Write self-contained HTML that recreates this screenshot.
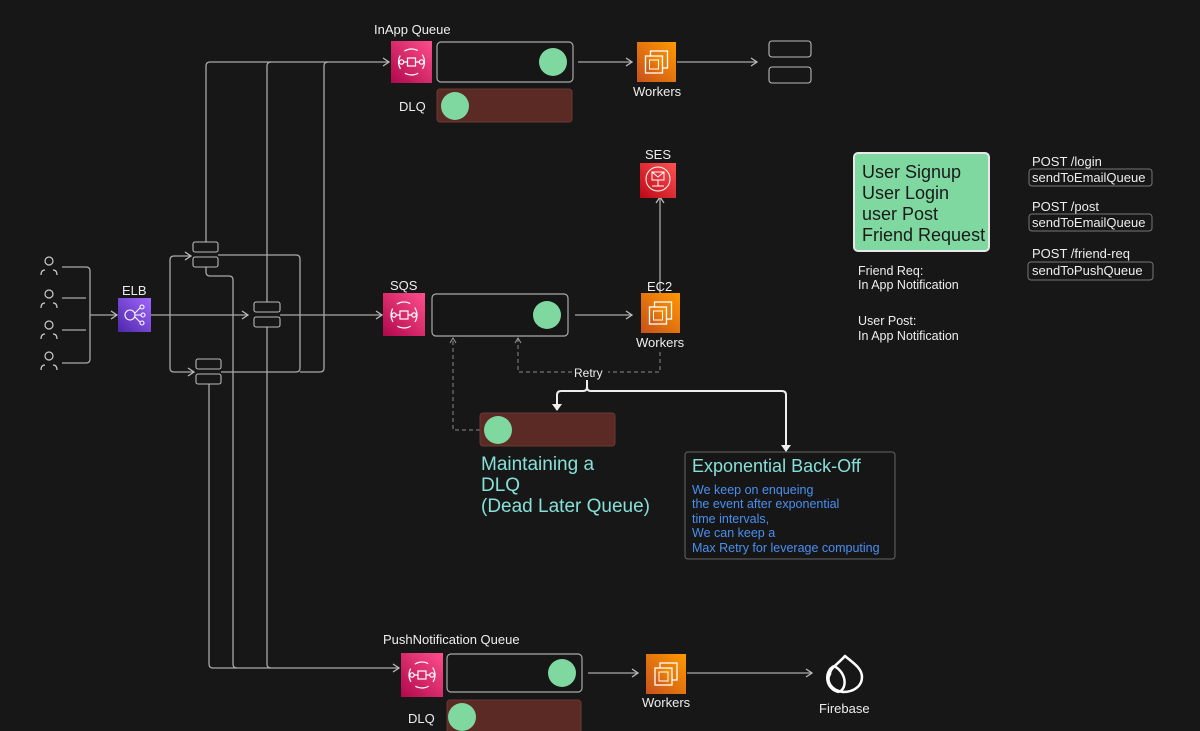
<!DOCTYPE html>
<html><head><meta charset="utf-8"><style>
html,body{margin:0;padding:0;background:#171717;}
svg{display:block;}
text{font-family:"Liberation Sans",sans-serif;}
</style></head><body>
<svg width="1200" height="731" viewBox="0 0 1200 731" xmlns="http://www.w3.org/2000/svg">
<defs>
<linearGradient id="pk" x1="0" y1="1" x2="1" y2="0"><stop offset="0" stop-color="#b0084d"/><stop offset="1" stop-color="#ff4f8b"/></linearGradient>
<linearGradient id="or" x1="0" y1="1" x2="1" y2="0"><stop offset="0" stop-color="#c8511b"/><stop offset="1" stop-color="#ff9900"/></linearGradient>
<linearGradient id="pu" x1="0" y1="1" x2="1" y2="0"><stop offset="0" stop-color="#4d27a8"/><stop offset="1" stop-color="#a166ff"/></linearGradient>
<linearGradient id="rd" x1="0" y1="1" x2="1" y2="0"><stop offset="0" stop-color="#bd0816"/><stop offset="1" stop-color="#ff5252"/></linearGradient>
<marker id="ar" markerWidth="10" markerHeight="10" refX="8" refY="5" orient="auto" markerUnits="userSpaceOnUse"><path d="M2,1 L8,5 L2,9" fill="none" stroke="#bbb" stroke-width="1.3"/></marker>
<marker id="arw" markerWidth="12" markerHeight="12" refX="6" refY="10" orient="0" markerUnits="userSpaceOnUse"><path d="M1,4 L6,11 L11,4 Z" fill="#eee"/></marker>
<marker id="ard" markerWidth="10" markerHeight="10" refX="5" refY="2" orient="0" markerUnits="userSpaceOnUse"><path d="M2,7 L5,2 L8,7" fill="none" stroke="#999" stroke-width="1"/></marker>
<g id="sqs">
<circle cx="0" cy="0" r="13" fill="none" stroke="#fff" stroke-width="1.2" stroke-dasharray="14 6" transform="rotate(-30)"/>
<circle cx="-10" cy="0" r="2.2" fill="none" stroke="#fff" stroke-width="1.2"/>
<circle cx="10" cy="0" r="2.2" fill="none" stroke="#fff" stroke-width="1.2"/>
<rect x="-4" y="-4" width="8" height="8" fill="none" stroke="#fff" stroke-width="1.2"/>
<path d="M-8,0 H-4 M4,0 H8" stroke="#fff" stroke-width="1.2"/>
</g>
<g id="ec2">
<rect x="-6" y="-11" width="17" height="17" fill="none" stroke="#fff" stroke-width="1.3"/>
<rect x="-11" y="-6" width="17" height="17" fill="url(#or)" stroke="#fff" stroke-width="1.3"/>
<rect x="-7" y="-2" width="9" height="9" fill="none" stroke="#fff" stroke-width="1"/>
</g>
</defs>

<g fill="none" stroke="#a8a8a8" stroke-width="1.3">
<path d="M62,267 H86 q4,0 4,4 V359 q0,4 -4,4 H62"/>
<path d="M62,298 H86 M62,330 H86"/>
<path d="M90,315 H117" marker-end="url(#ar)"/>
<path d="M151,315 H248" marker-end="url(#ar)"/>
<path d="M170,315 V260 q0,-4 4,-4 H191" marker-end="url(#ar)"/>
<path d="M170,315 V368 q0,4 4,4 H194" marker-end="url(#ar)"/>
<path d="M218,255 H296 q4,0 4,4 V368 q0,4 -4,4 H221"/>
<path d="M280,315 H382" marker-end="url(#ar)"/>
<path d="M300,372 H320 q4,0 4,-4 V66 q0,-4 4,-4"/>
<path d="M206,242 V66 q0,-4 4,-4 H389" marker-end="url(#ar)"/>
<path d="M267,302 V66 q0,-4 4,-4"/>
<path d="M206,267 V272 q0,4 4,4 H229 q4,0 4,4 V664 q0,4 4,4"/>
<path d="M209,384 V664 q0,4 4,4 H399" marker-end="url(#ar)"/>
<path d="M267,327 V664 q0,4 4,4"/>
<path d="M578,62 H632" marker-end="url(#ar)"/>
<path d="M677,62 H757" marker-end="url(#ar)"/>
<path d="M575,315 H632" marker-end="url(#ar)"/>
<path d="M660,293 V197" marker-end="url(#ar)"/>
<path d="M588,673 H638" marker-end="url(#ar)"/>
<path d="M687,673 H812" marker-end="url(#ar)"/>
</g>

<g fill="none" stroke="#ccc" stroke-width="1.2">
<circle cx="49" cy="261" r="4"/><path d="M41,275 q0,-5 4,-5 M57,275 q0,-5 -4,-5"/>
<circle cx="49" cy="294" r="4"/><path d="M41,308 q0,-5 4,-5 M57,308 q0,-5 -4,-5"/>
<circle cx="49" cy="325" r="4"/><path d="M41,339 q0,-5 4,-5 M57,339 q0,-5 -4,-5"/>
<circle cx="49" cy="356" r="4"/><path d="M41,370 q0,-5 4,-5 M57,370 q0,-5 -4,-5"/>
</g>

<text x="122" y="295" fill="#eee" font-size="13">ELB</text>
<rect x="118" y="298" width="33" height="34" fill="url(#pu)"/>
<g fill="none" stroke="#fff" stroke-width="1.1"><circle cx="130" cy="315" r="5"/><circle cx="142" cy="307" r="2"/><circle cx="143" cy="315" r="2"/><circle cx="142" cy="323" r="2"/><path d="M135,313 L140,308 M135,315 H141 M135,317 L140,322"/></g>

<g fill="#171717" stroke="#bbb" stroke-width="1.1">
<rect x="193" y="242" width="25" height="10" rx="2"/><rect x="193" y="257" width="25" height="10" rx="2"/>
<rect x="254" y="302" width="26" height="10" rx="2"/><rect x="254" y="317" width="26" height="10" rx="2"/>
<rect x="196" y="359" width="25" height="10" rx="2"/><rect x="196" y="374" width="25" height="10" rx="2"/>
<rect x="769" y="41" width="42" height="16" rx="3"/><rect x="769" y="67" width="42" height="16" rx="3"/>
</g>

<text x="374" y="34" fill="#eee" font-size="13">InApp Queue</text>
<rect x="391" y="41" width="41" height="42" fill="url(#pk)"/><use href="#sqs" x="411.5" y="62"/>
<rect x="437" y="42" width="136" height="40" rx="4" fill="#161616" stroke="#aaa" stroke-width="1.2"/>
<circle cx="553" cy="62" r="14" fill="#7fd8a0"/>
<text x="399" y="111" fill="#eee" font-size="13">DLQ</text>
<rect x="437" y="89" width="135" height="33" rx="3" fill="#5c2a25" stroke="#6a3a34"/>
<circle cx="455" cy="106" r="14" fill="#7fd8a0"/>
<rect x="637" y="42" width="39" height="40" fill="url(#or)"/><use href="#ec2" x="656.5" y="62"/>
<text x="633" y="96" fill="#eee" font-size="13">Workers</text>

<text x="645" y="159" fill="#eee" font-size="13">SES</text>
<rect x="640" y="163" width="36" height="35" fill="url(#rd)"/>
<g fill="none" stroke="#fff" stroke-width="1"><circle cx="658" cy="179" r="12"/><rect x="652" y="172" width="12" height="8"/><path d="M652,172 L658,177 L664,172 M658,180 V186 M652,186 H664"/></g>

<text x="390" y="290" fill="#eee" font-size="13">SQS</text>
<rect x="383" y="293" width="42" height="43" fill="url(#pk)"/><use href="#sqs" x="404" y="315"/>
<rect x="432" y="294" width="136" height="42" rx="4" fill="#161616" stroke="#aaa" stroke-width="1.2"/>
<circle cx="547" cy="315" r="14" fill="#7fd8a0"/>
<text x="647" y="291" fill="#eee" font-size="13">EC2</text>
<rect x="641" y="293" width="39" height="40" fill="url(#or)"/><use href="#ec2" x="660.5" y="313"/>
<text x="636" y="347" fill="#eee" font-size="13">Workers</text>

<g fill="none" stroke="#8a8a8a" stroke-width="1" stroke-dasharray="4 3">
<path d="M480,430 H453 V338" marker-end="url(#ard)"/>
<path d="M660,352 V372 H608 M572,372 H518 V338" marker-end="url(#ard)"/>
</g>
<text x="574" y="377" fill="#eee" font-size="12">Retry</text>
<g fill="none" stroke="#eee" stroke-width="2">
<path d="M587,380 V387 q0,4 -4,4 H561 q-4,0 -4,4 V410" marker-end="url(#arw)"/>
<path d="M587,387 q0,4 4,4 H782 q4,0 4,4 V451" marker-end="url(#arw)"/>
</g>
<rect x="480" y="413" width="135" height="33" rx="3" fill="#5c2a25" stroke="#6a3a34"/>
<circle cx="498" cy="430" r="14" fill="#7fd8a0"/>
<g fill="#86e0d8" font-size="19"><text x="481" y="470">Maintaining a</text><text x="481" y="491">DLQ</text><text x="481" y="512">(Dead Later Queue)</text></g>
<rect x="685" y="452" width="210" height="107" rx="3" fill="#161616" stroke="#666"/>
<text x="692" y="472" fill="#86e0d8" font-size="18">Exponential Back-Off</text>
<g fill="#4a8ff0" font-size="12.5"><text x="692" y="494">We keep on enqueing</text><text x="692" y="508">the event after exponential</text><text x="692" y="523">time intervals,</text><text x="692" y="537">We can keep a</text><text x="692" y="552">Max Retry for leverage computing</text></g>

<rect x="854" y="153" width="135" height="98" rx="4" fill="#7fd8a0" stroke="#e8e8e8" stroke-width="2"/>
<g fill="#1a1a1a" font-size="18"><text x="862" y="178">User Signup</text><text x="862" y="199">User Login</text><text x="862" y="220">user Post</text><text x="862" y="241">Friend Request</text></g>
<g fill="#eee" font-size="12.5"><text x="858" y="275">Friend Req:</text><text x="858" y="289">In App Notification</text><text x="858" y="325">User Post:</text><text x="858" y="340">In App Notification</text></g>
<g fill="#eee" font-size="13">
<text x="1032" y="166">POST /login</text><text x="1032" y="211">POST /post</text><text x="1032" y="258">POST /friend-req</text>
</g>
<g fill="none" stroke="#777"><rect x="1029" y="169" width="123" height="17" rx="3"/><rect x="1029" y="214" width="123" height="17" rx="3"/><rect x="1028" y="262" width="125" height="18" rx="3"/></g>
<g fill="#eee" font-size="13"><text x="1032" y="182">sendToEmailQueue</text><text x="1032" y="227">sendToEmailQueue</text><text x="1032" y="275">sendToPushQueue</text></g>

<text x="383" y="644" fill="#eee" font-size="13">PushNotification Queue</text>
<rect x="401" y="653" width="42" height="44" fill="url(#pk)"/><use href="#sqs" x="422" y="675"/>
<rect x="447" y="654" width="135" height="38" rx="4" fill="#161616" stroke="#aaa" stroke-width="1.2"/>
<circle cx="562" cy="673" r="14" fill="#7fd8a0"/>
<text x="408" y="723" fill="#eee" font-size="13">DLQ</text>
<rect x="447" y="700" width="134" height="36" rx="3" fill="#5c2a25" stroke="#6a3a34"/>
<circle cx="462" cy="717" r="14" fill="#7fd8a0"/>
<rect x="646" y="654" width="40" height="40" fill="url(#or)"/><use href="#ec2" x="666" y="674"/>
<text x="642" y="707" fill="#eee" font-size="13">Workers</text>
<g fill="none" stroke="#fff" stroke-width="2.5" stroke-linejoin="round"><path d="M845,656 C838,664 830,668 830,674 C826,680 830,690 843,692 C854,692 862,686 862,677 C862,668 852,662 845,656 Z"/><path d="M834,666 C823,672 826,690 839,692 M834,666 C846,672 848,688 839,692"/></g>
<text x="819" y="713" fill="#eee" font-size="13">Firebase</text>
</svg>
</body></html>
